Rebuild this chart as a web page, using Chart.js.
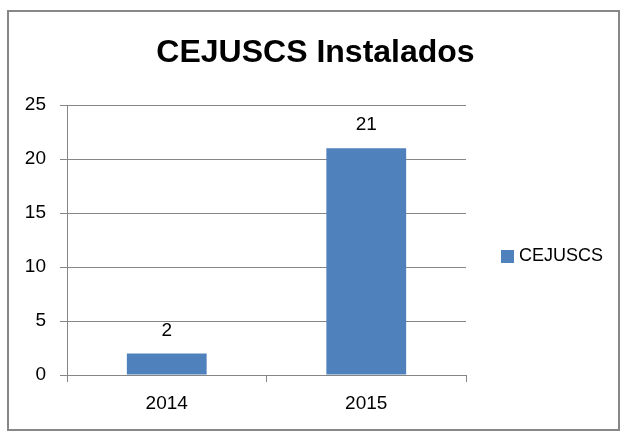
<!DOCTYPE html>
<html><head><meta charset="utf-8">
<script src="https://cdn.jsdelivr.net/npm/chart.js@4.4.1/dist/chart.umd.min.js"></script>
<style>html,body{margin:0;padding:0;background:#fff}canvas{display:block}</style>
</head><body>
<canvas id="c" width="631" height="444"></canvas>
<script>
const chartTitle = 'CEJUSCS Instalados';
const categories = ['2014', '2015'];
const seriesName = 'CEJUSCS';
const seriesValues = [2, 21];
const yTickValues = [0, 5, 10, 15, 20, 25];

const FONT = "'Liberation Sans', Arial, sans-serif";
const GRID = '#868686';
Chart.defaults.font.family = FONT;
Chart.defaults.color = '#000';

const framePlugin = {
  id: 'frame',
  beforeDraw(chart) {
    const ctx = chart.ctx;
    ctx.save();
    ctx.fillStyle = '#fff';
    ctx.fillRect(0, 0, chart.width, chart.height);
    ctx.restore();
  },
  afterDraw(chart) {
    const ctx = chart.ctx;
    ctx.save();
    ctx.strokeStyle = '#878787';
    ctx.lineWidth = 2;
    ctx.strokeRect(8, 11, 611, 419);
    ctx.restore();
  }
};

const valueLabels = {
  id: 'valueLabels',
  afterDatasetsDraw(chart) {
    const ctx = chart.ctx;
    ctx.save();
    ctx.font = '19px ' + FONT;
    ctx.fillStyle = '#000';
    ctx.textAlign = 'center';
    ctx.textBaseline = 'middle';
    chart.data.datasets.forEach((ds, di) => {
      chart.getDatasetMeta(di).data.forEach((bar, i) => {
        ctx.fillText(String(ds.data[i]), bar.x, bar.y - 23);
      });
    });
    ctx.restore();
  }
};

// Right-side legend built from the datasets' labels and colours
const sideLegend = {
  id: 'sideLegend',
  afterDraw(chart) {
    const ctx = chart.ctx;
    const area = chart.chartArea;
    const x0 = area.right + 35;
    const yc = (area.top + area.bottom) / 2 + 16.5;
    ctx.save();
    ctx.font = '18px ' + FONT;
    ctx.textBaseline = 'middle';
    ctx.textAlign = 'left';
    chart.data.datasets.forEach((ds, i) => {
      const y = yc + i * 24;
      ctx.fillStyle = ds.backgroundColor;
      ctx.fillRect(x0, y - 6.5, 13, 13);
      ctx.fillStyle = '#000';
      ctx.fillText(ds.label, x0 + 18, y);
    });
    ctx.restore();
  }
};

new Chart(document.getElementById('c'), {
  type: 'bar',
  data: {
    labels: categories,
    datasets: [{
      label: seriesName,
      data: seriesValues,
      backgroundColor: '#4F81BD',
      borderWidth: 0,
      categoryPercentage: 0.4,
      barPercentage: 1.0,
      yAxisID: 'y'
    }]
  },
  options: {
    responsive: false,
    animation: false,
    devicePixelRatio: 1,
    layout: { padding: 0 },
    plugins: {
      title: {
        display: true,
        text: chartTitle,
        color: '#000',
        font: { size: 32, weight: 'bold', family: FONT, lineHeight: 1.2 },
        padding: { top: 34, bottom: 32.6 }
      },
      legend: { display: false },
      tooltip: { enabled: false }
    },
    scales: {
      x: {
        grid: { offset: true, drawOnChartArea: false, drawTicks: true, tickLength: 7, color: GRID },
        border: { display: true, color: GRID, width: 1 },
        ticks: { font: { size: 19 }, color: '#000', padding: 10 },
        afterFit(s) { s.height = 69; }
      },
      y: {
        min: 0,
        max: 25,
        grid: { color: GRID, tickLength: 7, drawTicks: true },
        border: { display: true, color: GRID, width: 1 },
        ticks: { stepSize: 5, font: { size: 19 }, color: '#000', padding: 14 },
        afterBuildTicks(s) { s.ticks = yTickValues.map(v => ({ value: v })); },
        afterFit(s) { s.width = 67; }
      },
      legendSpace: {
        type: 'linear',
        position: 'right',
        display: true,
        grid: { display: false, drawOnChartArea: false },
        border: { display: false },
        ticks: { display: false },
        afterFit(s) { s.width = 165; }
      }
    }
  },
  plugins: [framePlugin, valueLabels, sideLegend]
});
</script>
</body></html>
